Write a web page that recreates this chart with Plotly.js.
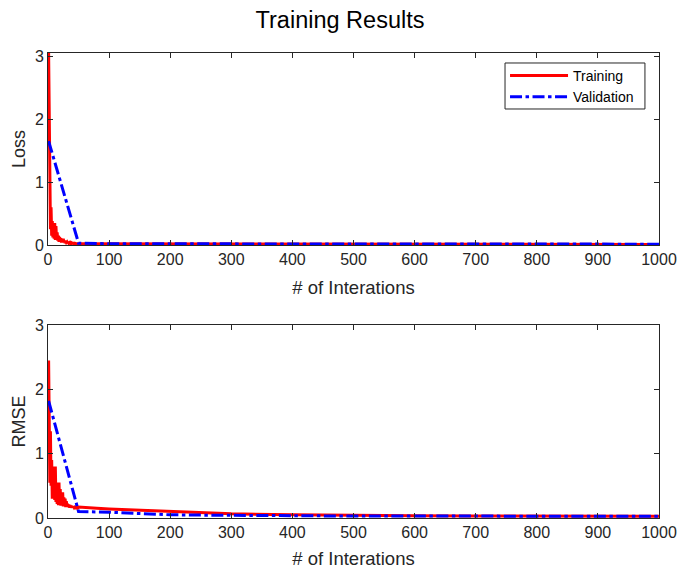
<!DOCTYPE html>
<html>
<head>
<meta charset="utf-8">
<script src="https://cdn.plot.ly/plotly-3.0.1.min.js"></script>
<style>html,body{margin:0;padding:0;background:#fff;}#chart{width:680px;height:572px;}</style>
</head>
<body>
<div id="chart"></div>
<script>
// Training iterations (dense at start, sparse later)
const trainIter = [1,2,3,4,5,6,7,8,9,10,11,12,13,14,15,16,17,18,19,20,21,22,23,24,25,26,27,28,29,30,31,32,33,34,35,36,37,38,39,40,41,42,43,44,45,46,47,48,49,50,60,80,100,150,200,250,300,400,500,600,700,800,900,1000];
const trainLoss = [3.05,1.6,0.9,0.25,0.6,0.15,0.38,0.12,0.33,0.1,0.35,0.08,0.3,0.09,0.2,0.07,0.15,0.05,0.13,0.06,0.11,0.04,0.09,0.05,0.1,0.04,0.07,0.03,0.06,0.04,0.05,0.03,0.05,0.03,0.04,0.03,0.04,0.025,0.035,0.025,0.03,0.02,0.03,0.02,0.025,0.02,0.025,0.02,0.02,0.02,0.018,0.016,0.015,0.013,0.012,0.011,0.011,0.01,0.01,0.009,0.009,0.008,0.008,0.008];
const trainRMSE = [2.45,1.3,0.55,1.35,0.5,0.9,0.3,0.8,0.35,0.75,0.28,0.8,0.25,0.55,0.22,0.5,0.2,0.55,0.2,0.45,0.19,0.35,0.2,0.4,0.18,0.32,0.18,0.3,0.17,0.26,0.17,0.22,0.17,0.21,0.16,0.2,0.16,0.19,0.16,0.18,0.16,0.18,0.16,0.17,0.16,0.17,0.16,0.17,0.16,0.17,0.16,0.15,0.14,0.12,0.1,0.08,0.065,0.05,0.04,0.035,0.032,0.03,0.028,0.026];
// Validation iterations
const valIter = [1,50,100,150,200,250,300,350,400,450,500,550,600,650,700,750,800,850,900,950,1000];
const valLoss = [1.65,0.03,0.02,0.02,0.02,0.018,0.018,0.017,0.017,0.016,0.016,0.016,0.015,0.015,0.015,0.015,0.015,0.014,0.014,0.014,0.014];
const valRMSE = [1.82,0.1,0.09,0.07,0.05,0.045,0.04,0.037,0.035,0.033,0.032,0.031,0.03,0.03,0.029,0.028,0.028,0.027,0.027,0.026,0.026];
const xTicks = [0,100,200,300,400,500,600,700,800,900,1000];
const yTicks = [0,1,2,3];

const FONT = 'Liberation Sans, Arial, Helvetica, sans-serif';
const AX = '#262626';
const RED = '#ff0000', BLUE = '#0000ff';
const DASHDOT = '12px,3.5px,3.5px,3.5px';

const traces = [
  {x: trainIter, y: trainLoss, type: 'scatter', mode: 'lines', name: 'Training', line: {color: RED, width: 3}, xaxis: 'x', yaxis: 'y'},
  {x: valIter, y: valLoss, type: 'scatter', mode: 'lines', name: 'Validation', line: {color: BLUE, width: 3, dash: DASHDOT}, xaxis: 'x', yaxis: 'y'},
  {x: trainIter, y: trainRMSE, type: 'scatter', mode: 'lines', name: 'Training', showlegend: false, line: {color: RED, width: 3}, xaxis: 'x2', yaxis: 'y2'},
  {x: valIter, y: valRMSE, type: 'scatter', mode: 'lines', name: 'Validation', showlegend: false, line: {color: BLUE, width: 3, dash: DASHDOT}, xaxis: 'x2', yaxis: 'y2'}
];

function xax(anchor, standoff) {
  return {
    anchor: anchor, domain: [0, 1], range: [0, 1000], tickvals: xTicks, ticktext: xTicks.map(String),
    ticks: 'inside', ticklen: 5, tickwidth: 1, tickcolor: AX, showline: true, linecolor: AX, linewidth: 1,
    mirror: 'ticks', showgrid: false, zeroline: false,
    tickfont: {family: FONT, size: 16, color: AX},
    title: {text: '# of Interations', font: {family: FONT, size: 18.5, color: AX}, standoff: standoff}
  };
}
function yax(anchor, domain, top, label) {
  return {
    anchor: anchor, domain: domain, range: [0, top], tickvals: yTicks, ticktext: yTicks.map(String),
    ticks: 'inside', ticklen: 5, tickwidth: 1, tickcolor: AX, showline: true, linecolor: AX, linewidth: 1,
    mirror: 'ticks', showgrid: false, zeroline: false,
    tickfont: {family: FONT, size: 16, color: AX},
    title: {text: label, font: {family: FONT, size: 18, color: AX}, standoff: 4}
  };
}

const layout = {
  width: 680, height: 572,
  margin: {l: 48, r: 21, t: 53, b: 54},
  paper_bgcolor: '#ffffff', plot_bgcolor: '#ffffff',
  font: {family: FONT, color: AX},
  title: {text: 'Training Results', font: {family: FONT, size: 23.5, color: '#000000'}, x: 0.5, xanchor: 'center', y: 0.965, yanchor: 'middle'},
  xaxis: xax('y', 13),
  yaxis: yax('x', [0.587, 1], 3.05, 'Loss'),
  xaxis2: xax('y2', 11),
  yaxis2: yax('x2', [0, 0.415], 3, 'RMSE'),
  showlegend: true,
  legend: {x: 0.748, y: 0.985, xanchor: 'left', yanchor: 'top', bgcolor: 'rgba(0,0,0,0)', borderwidth: 0,
           font: {family: FONT, size: 14, color: '#000000'}, itemwidth: 58, tracegroupgap: 0},
  shapes: [
    {type: 'rect', xref: 'paper', yref: 'paper', x0: 0.748, x1: 0.977, y0: 0.8796, y1: 0.9785,
     fillcolor: '#ffffff', line: {color: AX, width: 1}, layer: 'above'}
  ]
};

Plotly.newPlot('chart', traces, layout, {displayModeBar: false, staticPlot: true});
</script>
</body>
</html>
